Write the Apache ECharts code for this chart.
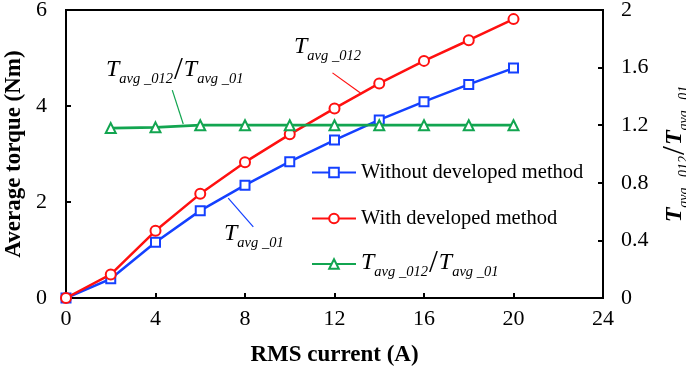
<!DOCTYPE html>
<html>
<head>
<meta charset="utf-8">
<script src="https://cdn.jsdelivr.net/npm/echarts@6/dist/echarts.min.js"></script>
<style>
  html, body { margin: 0; padding: 0; background: #fff; }
  #chart { width: 686px; height: 373px; }
</style>
</head>
<body>
<div id="chart"></div>
<script>
// RMS current (A)
const currents = [0, 2, 4, 6, 8, 10, 12, 14, 16, 18, 20];
// average torque (Nm)
const torqueWithout = [0, 0.40, 1.16, 1.82, 2.35, 2.84, 3.29, 3.71, 4.09, 4.45, 4.79];
const torqueWith = [0, 0.49, 1.40, 2.17, 2.83, 3.41, 3.95, 4.47, 4.94, 5.37, 5.81];
// torque ratio, starts at 2 A
const ratioCurrents = [2, 4, 6, 8, 10, 12, 14, 16, 18, 20];
const torqueRatio = [1.18, 1.185, 1.2, 1.2, 1.2, 1.2, 1.2, 1.2, 1.2, 1.2];

const xTicks = { min: 0, max: 24, interval: 4 };
const leftTicks = { min: 0, max: 6, interval: 2 };
const rightTicks = { min: 0, max: 2, interval: 0.4 };

const FONT = "'Liberation Serif', 'Times New Roman', serif";
const RED = '#ff1010';
const BLUE = '#1440ff';
const GREEN = '#12a550';

const pairs = (xs, ys) => xs.map((x, i) => [x, ys[i]]);

// rich styles for T_avg subscripts
function richFor(color, big, small, bold) {
    return {
        T: { fontFamily: FONT, fontStyle: 'italic', fontWeight: bold ? 'bold' : 'normal', fontSize: big, color: color, verticalAlign: 'bottom', padding: [0, 0, 5, 0] },
        s: { fontFamily: FONT, fontStyle: 'italic', fontSize: small, color: color, verticalAlign: 'bottom' },
        sl: { fontFamily: FONT, fontSize: big + 8, color: color, verticalAlign: 'bottom', padding: [0, 1, 0, 1] }
    };
}
const ratioText = '{T|T}{s|avg _012}{sl|/}{T|T}{s|avg _01}';

const axisCommon = {
    type: 'value',
    axisLine: { show: true, lineStyle: { color: '#000', width: 2 } },
    axisTick: { show: true, inside: true, length: 5, lineStyle: { color: '#000', width: 2 } },
    splitLine: { show: false },
    axisLabel: { color: '#000', fontFamily: FONT, fontSize: 22 },
    nameTextStyle: { color: '#000', fontFamily: FONT, fontSize: 23, fontWeight: 'bold' }
};

const legendCommon = {
    left: 306,
    itemWidth: 44,
    itemHeight: 12,
    textStyle: { fontFamily: FONT, fontSize: 20.5, color: '#000' }
};

const chart = echarts.init(document.getElementById('chart'), null, { renderer: 'canvas' });
chart.setOption({
    animation: false,
    backgroundColor: '#fff',
    grid: {
        left: 66, right: 83, top: 10, bottom: 75, outerBoundsMode: 'none', containLabel: false,
        show: true, borderColor: '#000', borderWidth: 2
    },
    xAxis: Object.assign({}, axisCommon, xTicks, {
        name: 'RMS current (A)', nameLocation: 'middle', nameGap: 46,
        axisLabel: Object.assign({}, axisCommon.axisLabel, { margin: 10 })
    }),
    yAxis: [
        Object.assign({}, axisCommon, leftTicks, {
            name: 'Average torque (Nm)', nameLocation: 'middle', nameGap: 31,
            axisLabel: Object.assign({}, axisCommon.axisLabel, { margin: 19 })
        }),
        Object.assign({}, axisCommon, rightTicks, {
            position: 'right',
            name: ratioText, nameLocation: 'middle', nameGap: 52, nameRotate: 90,
            nameTextStyle: { rich: richFor('#000', 24, 14, true) },
            axisLabel: Object.assign({}, axisCommon.axisLabel, { margin: 18 })
        })
    ],
    legend: [
        Object.assign({}, legendCommon, { top: 157, data: ['Without developed method'] }),
        Object.assign({}, legendCommon, { top: 203, data: ['With developed method'] }),
        Object.assign({}, legendCommon, {
            top: 243, data: ['ratio'],
            formatter: () => ratioText,
            textStyle: Object.assign({}, legendCommon.textStyle, { rich: richFor('#000', 24, 14.5, false) })
        })
    ],
    series: [
        {
            name: 'Without developed method', type: 'line', data: pairs(currents, torqueWithout),
            color: BLUE, symbol: 'emptyRect', symbolSize: 9, z: 3,
            lineStyle: { width: 2.5 }, itemStyle: { borderWidth: 1.5 },
            markLine: {
                silent: true, symbol: ['none', 'none'], label: { show: false },
                lineStyle: { color: BLUE, width: 1.2, type: 'solid' },
                data: [[{ coord: [7.25, 2.08] }, { coord: [8.37, 1.48] }]]
            }
        },
        {
            name: 'With developed method', type: 'line', data: pairs(currents, torqueWith),
            color: RED, symbol: 'emptyCircle', symbolSize: 10, z: 4,
            lineStyle: { width: 2.5 }, itemStyle: { borderWidth: 1.5 },
            markLine: {
                silent: true, symbol: ['none', 'none'], label: { show: false },
                lineStyle: { color: RED, width: 1.2, type: 'solid' },
                data: [[{ coord: [11.91, 4.69] }, { coord: [13.16, 4.27] }]]
            }
        },
        {
            name: 'ratio', type: 'line', yAxisIndex: 1, data: pairs(ratioCurrents, torqueRatio),
            color: GREEN, symbol: 'emptyTriangle', symbolSize: 10, z: 5,
            lineStyle: { width: 2.8 }, itemStyle: { borderWidth: 1.5 },
            markLine: {
                silent: true, symbol: ['none', 'none'], label: { show: false },
                lineStyle: { color: GREEN, width: 1.2, type: 'solid' },
                data: [[{ coord: [4.75, 1.444] }, { coord: [5.24, 1.208] }]]
            }
        }
    ],
    graphic: [
        { type: 'text', left: 106, top: 55, z: 10, style: { text: ratioText, rich: richFor(GREEN, 24, 14.5, false) } },
        { type: 'text', left: 294, top: 35, z: 10, style: { text: '{T|T}{s|avg _012}', rich: richFor(RED, 24, 14.5, false) } },
        { type: 'text', left: 224, top: 222, z: 10, style: { text: '{T|T}{s|avg _01}', rich: richFor(BLUE, 24, 14.5, false) } }
    ]
});
</script>
</body>
</html>
